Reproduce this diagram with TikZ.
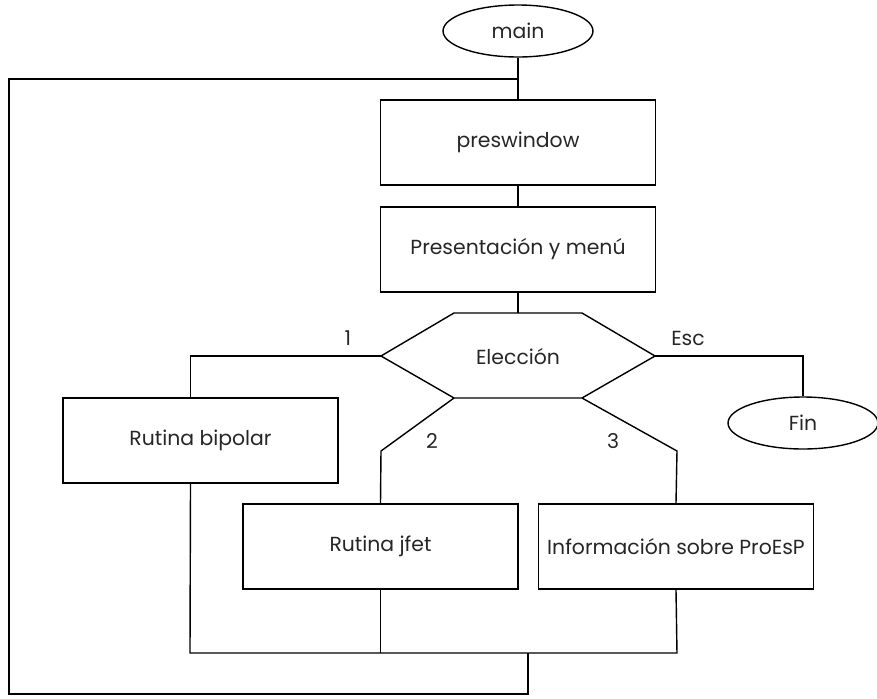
\documentclass[tikz,border=0pt]{standalone}
\usepackage{fontspec}
\setmainfont{Poppins}
\usetikzlibrary{shapes}

\begin{document}
\begin{tikzpicture}[x=0.02cm, y=-0.02cm, line width=0.8pt,
    box/.style={rectangle, draw, minimum width=5.5cm, minimum height=1.7cm, inner sep=0pt},
    term/.style={ellipse, draw, minimum width=3cm, minimum height=1.04cm, inner sep=0pt},
    every node/.append style={font=\fontsize{11.6}{13}\selectfont, text=black!85}]

    \useasboundingbox (0,0) rectangle (877,698);

    \node (main) [term] at (518,31) {main};
    \node (pres) [box] at (518,142.5) {preswindow};
    \node (menu) [box] at (518,249.5) {Presentación y menú};

    % hexagon
    \coordinate (hl) at (381,356);
    \coordinate (htl) at (454,313);
    \coordinate (htop) at (518,313);
    \coordinate (htr) at (582,313);
    \coordinate (hr) at (655,356);
    \coordinate (hbr) at (582,398);
    \coordinate (hbl) at (454,398);
    \draw (hl) -- (htl) -- (htr) -- (hr) -- (hbr) -- (hbl) -- cycle;
    \node (elec) at (518,357) {Elección};

    \node (bip) [box] at (200.5,440.5) {Rutina bipolar};
    \node (jfet) [box] at (380.5,546.5) {Rutina jfet};
    \node (info) [box] at (676,546.5) {Información sobre ProEsP};
    \node (fin) [term] at (803,423) {Fin};

    \node (one) at (348,338) {1};
    \node (esc) at (688,338) {Esc};
    \node (two) at (432,441) {2};
    \node (three) at (613,441) {3};

    \draw (main) -- (pres);
    \draw (pres) -- (menu);
    \draw (menu) -- (htop);

    \draw (hl) -| ([xshift=-0.2cm]bip.north);
    \draw (hr) -| (fin.north);
    \coordinate (k2) at (381,451);
    \coordinate (k3) at (677,451);
    \draw (hbl) -- (k2) -- (jfet.north);
    \draw (hbr) -- (k3) -- (info.north);

    % bottom and loop back
    \coordinate (busl) at (190,653);
    \coordinate (busr) at (677,653);
    \coordinate (ret) at (528,653);
    \coordinate (r2) at (9,694);
    \coordinate (r4) at (518,79);
    \draw ([xshift=-0.2cm]bip.south) -- (busl) -- (busr) -- (info.south);
    \draw (jfet.south) -- (jfet.south |- busl);
    \draw (ret) |- (r2) |- (r4);
\end{tikzpicture}
\end{document}
